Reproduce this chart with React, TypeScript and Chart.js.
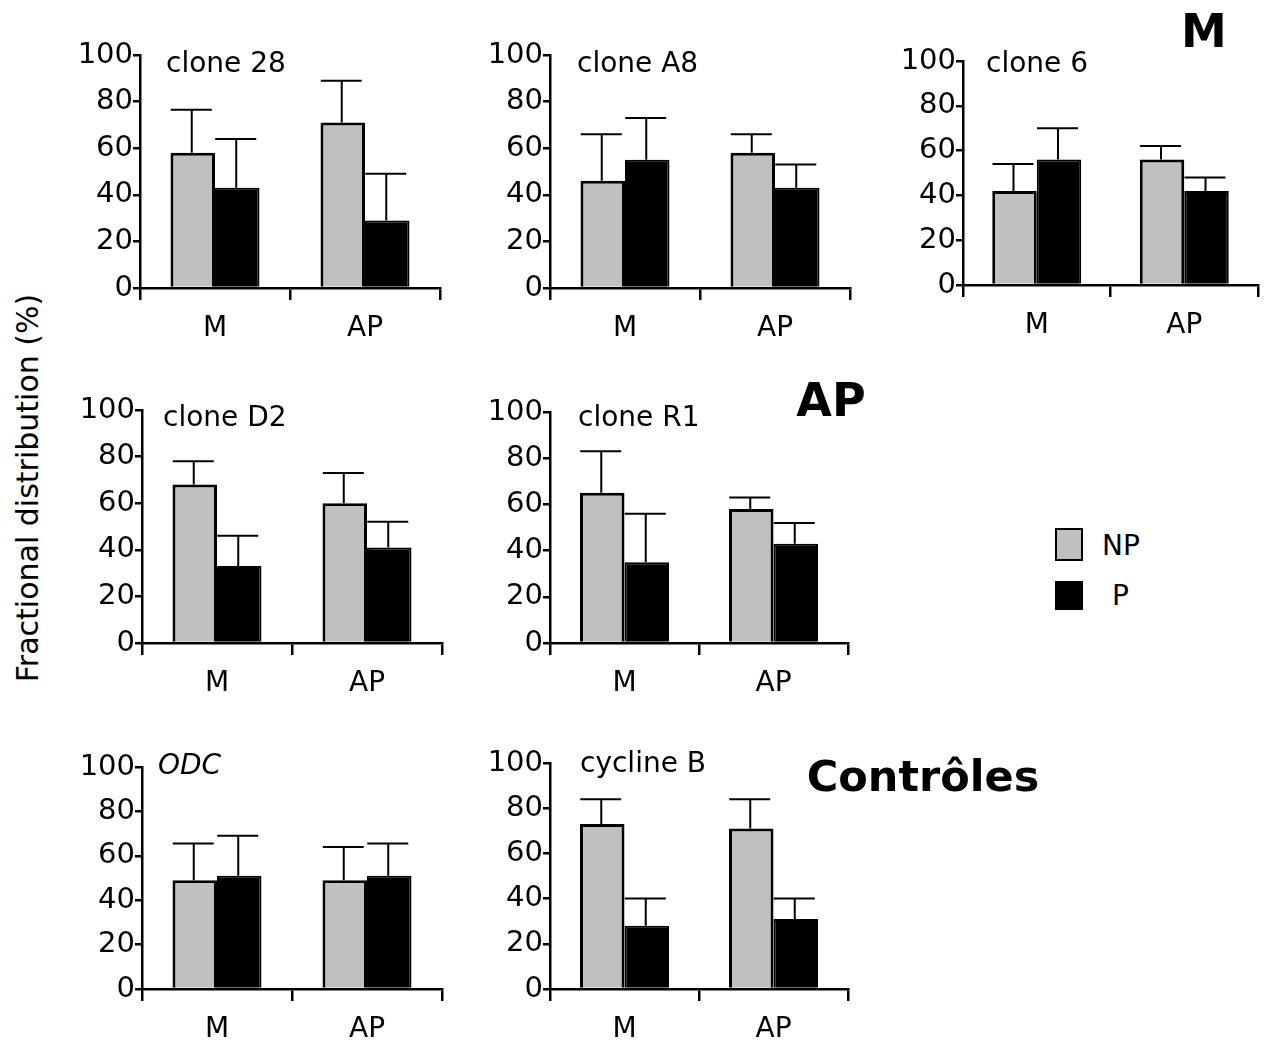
import React, { useEffect, useRef } from 'react';
import { Chart, registerables } from 'chart.js';

Chart.register(...registerables);
Chart.defaults.font.family = "'DejaVu Sans', sans-serif";
Chart.defaults.color = '#000';

// ---------- data ----------
const categories = ['M', 'AP'];
const seriesNames = ['NP', 'P'];
const yTickValues = [0, 20, 40, 60, 80, 100];

const clone28NP = [58, 71];
const clone28NPsd = [18.5, 18];
const clone28P = [43, 29];
const clone28Psd = [21, 20];

const cloneA8NP = [46, 58];
const cloneA8NPsd = [20, 8];
const cloneA8P = [55, 43];
const cloneA8Psd = [18, 10];

const clone6NP = [42, 56];
const clone6NPsd = [12, 6];
const clone6P = [56, 42];
const clone6Psd = [14, 6];

const cloneD2NP = [68, 60];
const cloneD2NPsd = [10, 13];
const cloneD2P = [33, 41];
const cloneD2Psd = [13, 11];

const cloneR1NP = [65, 58];
const cloneR1NPsd = [18, 5];
const cloneR1P = [35, 43];
const cloneR1Psd = [21, 9];

const odcNP = [49, 49];
const odcNPsd = [16.5, 15];
const odcP = [51, 51];
const odcPsd = [18, 14.5];

const cyclineBNP = [73, 71];
const cyclineBNPsd = [11, 13];
const cyclineBP = [28, 31];
const cyclineBPsd = [12, 9];

const yAxisTitle = 'Fractional distribution (%)';
const groupLabels = ['M', 'AP', 'Contrôles'];

// ---------- layout ----------
const Y_W = 70;
const PAD_T = 20;
const PAD_R = 6;
const X_H = 66;
const GROUP_PX = 89;
const NP_COLOR = '#c0c0c0';

const panels = [
  { title: 'clone 28', italic: false, np: clone28NP, npSd: clone28NPsd, p: clone28P, pSd: clone28Psd,
    box: { axisX: 140, y0: 288, y100: 55, right: 440 }, tx: 166, ty: 62 },
  { title: 'clone A8', italic: false, np: cloneA8NP, npSd: cloneA8NPsd, p: cloneA8P, pSd: cloneA8Psd,
    box: { axisX: 550, y0: 288, y100: 55, right: 850 }, tx: 577, ty: 62 },
  { title: 'clone 6', italic: false, np: clone6NP, npSd: clone6NPsd, p: clone6P, pSd: clone6Psd,
    box: { axisX: 963, y0: 285, y100: 61, right: 1258 }, tx: 986, ty: 62 },
  { title: 'clone D2', italic: false, np: cloneD2NP, npSd: cloneD2NPsd, p: cloneD2P, pSd: cloneD2Psd,
    box: { axisX: 142, y0: 643, y100: 410, right: 442 }, tx: 163, ty: 416 },
  { title: 'clone R1', italic: false, np: cloneR1NP, npSd: cloneR1NPsd, p: cloneR1P, pSd: cloneR1Psd,
    box: { axisX: 550, y0: 643, y100: 412, right: 848 }, tx: 578, ty: 416 },
  { title: 'ODC', italic: true, np: odcNP, npSd: odcNPsd, p: odcP, pSd: odcPsd,
    box: { axisX: 142, y0: 989, y100: 767, right: 442 }, tx: 158, ty: 764 },
  { title: 'cycline B', italic: false, np: cyclineBNP, npSd: cyclineBNPsd, p: cyclineBP, pSd: cyclineBPsd,
    box: { axisX: 550, y0: 989, y100: 763, right: 848 }, tx: 580, ty: 762 },
];

const errorBarPlugin = {
  id: 'upperErrorBars',
  afterDatasetsDraw(chart: any) {
    const ctx = chart.ctx;
    const yScale = chart.scales.y;
    chart.data.datasets.forEach((ds: any, i: number) => {
      const meta = chart.getDatasetMeta(i);
      meta.data.forEach((bar: any, j: number) => {
        const v = ds.data[j];
        const sd = ds.sd[j];
        const top = yScale.getPixelForValue(v + sd);
        ctx.save();
        ctx.strokeStyle = '#000';
        ctx.lineWidth = 2;
        ctx.beginPath();
        ctx.moveTo(bar.x - 1, bar.y);
        ctx.lineTo(bar.x - 1, top);
        ctx.moveTo(bar.x - 22, top);
        ctx.lineTo(bar.x + 19, top);
        ctx.stroke();
        ctx.restore();
      });
    });
  },
};

function Panel({ cfg }: { cfg: any }) {
  const ref = useRef<HTMLCanvasElement>(null);
  const { axisX, y0, y100, right } = cfg.box;
  const plotW = right - axisX;
  const plotH = y0 - y100;
  const cw = Y_W + plotW + PAD_R;
  const ch = PAD_T + plotH + X_H;
  const catPct = GROUP_PX / (plotW / categories.length);

  useEffect(() => {
    if (!ref.current) return;
    const chart = new Chart(ref.current, {
      type: 'bar',
      data: {
        labels: categories,
        datasets: [
          {
            label: seriesNames[0],
            data: cfg.np,
            sd: cfg.npSd,
            backgroundColor: NP_COLOR,
            borderColor: '#000',
            borderWidth: 3,
            barPercentage: 1,
            categoryPercentage: catPct,
          } as any,
          {
            label: seriesNames[1],
            data: cfg.p,
            sd: cfg.pSd,
            backgroundColor: '#000',
            borderColor: '#000',
            borderWidth: 2,
            barPercentage: 1,
            categoryPercentage: catPct,
          } as any,
        ],
      },
      options: {
        animation: false,
        responsive: false,
        maintainAspectRatio: false,
        layout: { padding: { top: PAD_T, right: PAD_R, left: 0, bottom: 0 } },
        plugins: { legend: { display: false }, tooltip: { enabled: false }, title: { display: false } },
        scales: {
          x: {
            type: 'category',
            offset: true,
            grid: {
              offset: true,
              drawOnChartArea: false,
              drawTicks: true,
              tickLength: 12,
              color: '#000',
              lineWidth: 2.5,
            },
            border: { display: true, color: '#000', width: 2.5 },
            ticks: { color: '#000', font: { size: 28 }, padding: 12, maxRotation: 0 },
            afterFit: (s: any) => { s.height = X_H; },
          },
          y: {
            min: 0,
            max: 100,
            afterBuildTicks: (s: any) => { s.ticks = yTickValues.map((v) => ({ value: v })); },
            grid: { drawOnChartArea: false, tickLength: 7, color: '#000', lineWidth: 2.5 },
            border: { display: true, color: '#000', width: 2.5 },
            ticks: { color: '#000', font: { size: 29 }, padding: 0 },
            afterFit: (s: any) => { s.width = Y_W; },
          },
        },
      },
      plugins: [errorBarPlugin],
    } as any);
    return () => chart.destroy();
  }, []);

  return (
    <canvas
      ref={ref}
      width={cw}
      height={ch}
      style={{ position: 'absolute', left: axisX - Y_W, top: y100 - PAD_T, width: cw, height: ch }}
    />
  );
}

const textBase: React.CSSProperties = {
  position: 'absolute',
  fontFamily: "'DejaVu Sans', sans-serif",
  color: '#000',
  lineHeight: 1,
  whiteSpace: 'nowrap',
};

export default function App() {
  return (
    <div style={{ position: 'absolute', left: 0, top: 0, width: 1264, height: 1049, background: '#fff', overflow: 'hidden' }}>
      {panels.map((cfg, i) => (
        <Panel key={i} cfg={cfg} />
      ))}
      {panels.map((cfg, i) => (
        <div key={'t' + i} style={{ ...textBase, left: cfg.tx, top: cfg.ty - 13, fontSize: 28, fontStyle: cfg.italic ? 'italic' : 'normal' }}>
          {cfg.title}
        </div>
      ))}
      <div style={{ ...textBase, left: 28, top: 488, fontSize: 30, transform: 'translate(-50%, -50%) rotate(-90deg)' }}>
        {yAxisTitle}
      </div>
      <div style={{ ...textBase, left: 1204, top: 8, fontSize: 46, fontWeight: 'bold', transform: 'translateX(-50%)' }}>
        {groupLabels[0]}
      </div>
      <div style={{ ...textBase, left: 831, top: 377, fontSize: 46, fontWeight: 'bold', transform: 'translateX(-50%)' }}>
        {groupLabels[1]}
      </div>
      <div style={{ ...textBase, left: 923, top: 755, fontSize: 43, fontWeight: 'bold', transform: 'translateX(-50%)' }}>
        {groupLabels[2]}
      </div>
      {/* legend */}
      <div style={{ position: 'absolute', left: 1055, top: 528, width: 28, height: 33, boxSizing: 'border-box', background: NP_COLOR, border: '2.5px solid #000' }} />
      <div style={{ ...textBase, left: 1102, top: 532, fontSize: 28 }}>{seriesNames[0]}</div>
      <div style={{ position: 'absolute', left: 1055, top: 581, width: 28, height: 29, background: '#000' }} />
      <div style={{ ...textBase, left: 1112, top: 582, fontSize: 28 }}>{seriesNames[1]}</div>
    </div>
  );
}
